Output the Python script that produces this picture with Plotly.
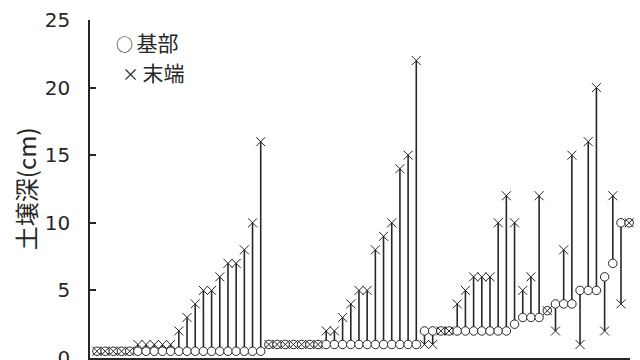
import plotly.graph_objects as go

# Root depth records: base depth (circle) and tip depth (cross), in cm
base_g1 = [0.5, 0.5, 0.5, 0.5, 0.5, 0.5, 0.5, 0.5, 0.5, 0.5, 0.5,
           0.5, 0.5, 0.5, 0.5, 0.5, 0.5, 0.5, 0.5, 0.5, 0.5]
tip_g1 = [0.5, 0.5, 0.5, 0.5, 0.5, 1, 1, 1, 1, 1, 2,
          3, 4, 5, 5, 6, 7, 7, 8, 10, 16]

base_g2 = [1, 1, 1, 1, 1, 1, 1, 1, 1, 1,
           1, 1, 1, 1, 1, 1, 1, 1, 1]
tip_g2 = [1, 1, 1, 1, 1, 1, 1, 2, 2, 3,
          4, 5, 5, 8, 9, 10, 14, 15, 22]

base_g3 = [2, 2, 2, 2, 2, 2, 2, 2, 2, 2, 2, 2.5, 3,
           3, 3, 3.5, 4, 4, 4, 5, 5, 5, 6, 7, 10, 10]
tip_g3 = [1, 1, 2, 2, 4, 5, 6, 6, 6, 10, 12, 10, 5,
          6, 12, 3.5, 2, 8, 15, 1, 16, 20, 2, 12, 4, 10]

y_ticks = [0, 5, 10, 15, 20, 25]
y_title = "土壌深(cm)"
legend_marks = ["○", "×"]
legend_names = ["基部", "末端"]

base = base_g1 + base_g2 + base_g3
tip = tip_g1 + tip_g2 + tip_g3
idx = list(range(1, len(base) + 1))

ink = "#262626"

# vertical segments joining base and tip of each root
seg_x, seg_y = [], []
for i, b, t in zip(idx, base, tip):
    seg_x += [i, i, None]
    seg_y += [b, t, None]

fig = go.Figure()
fig.add_trace(go.Scatter(x=seg_x, y=seg_y, mode="lines",
                         line=dict(color=ink, width=1.6),
                         hoverinfo="skip", showlegend=False))
fig.add_trace(go.Scatter(x=idx, y=base, mode="markers", name="基部",
                         marker=dict(symbol="circle", size=8.5, color="white",
                                     line=dict(color=ink, width=1)),
                         cliponaxis=False, showlegend=False))
fig.add_trace(go.Scatter(x=idx, y=tip, mode="markers", name="末端",
                         marker=dict(symbol="x-thin", size=9, color=ink,
                                     line=dict(color=ink, width=1)),
                         cliponaxis=False, showlegend=False))

font_jp = "Noto Sans CJK JP, Liberation Sans, sans-serif"

# small text key in the upper-left corner
for k in range(len(legend_names)):
    fig.add_annotation(
        text=("<span style='font-size:17px'>%s\u2009</span>%s"
              % (legend_marks[k], legend_names[k])),
        xref="paper", yref="paper",
        x=[0.044, 0.056][k], y=[0.936, 0.846][k], xanchor="left",
        yanchor="middle", showarrow=False,
        font=dict(family=font_jp, size=21, color=ink))

fig.add_annotation(text=y_title, xref="paper", yref="paper",
                   x=-0.12, y=0.5, xanchor="center", yanchor="middle",
                   textangle=-90, showarrow=False,
                   font=dict(family=font_jp, size=24, color=ink))

fig.update_layout(
    width=640, height=360,
    margin=dict(l=90, r=10, t=20, b=2),
    paper_bgcolor="white", plot_bgcolor="white",
    xaxis=dict(range=[0.15, 66.1], showline=True, linecolor=ink,
               linewidth=1.5, showticklabels=False, ticks="",
               showgrid=False, zeroline=False, automargin=False),
    yaxis=dict(range=[0, 25], tickvals=y_ticks, ticks="inside",
               ticklen=6, tickwidth=1.5, tickcolor=ink,
               showline=True, linecolor=ink, linewidth=1.5,
               showgrid=False, zeroline=False, ticklabelstandoff=14,
               ticklabeloverflow="allow", automargin=False,
               tickfont=dict(family="DejaVu Sans, sans-serif", size=20,
                             color=ink)),
)

fig.write_html("out.html")
